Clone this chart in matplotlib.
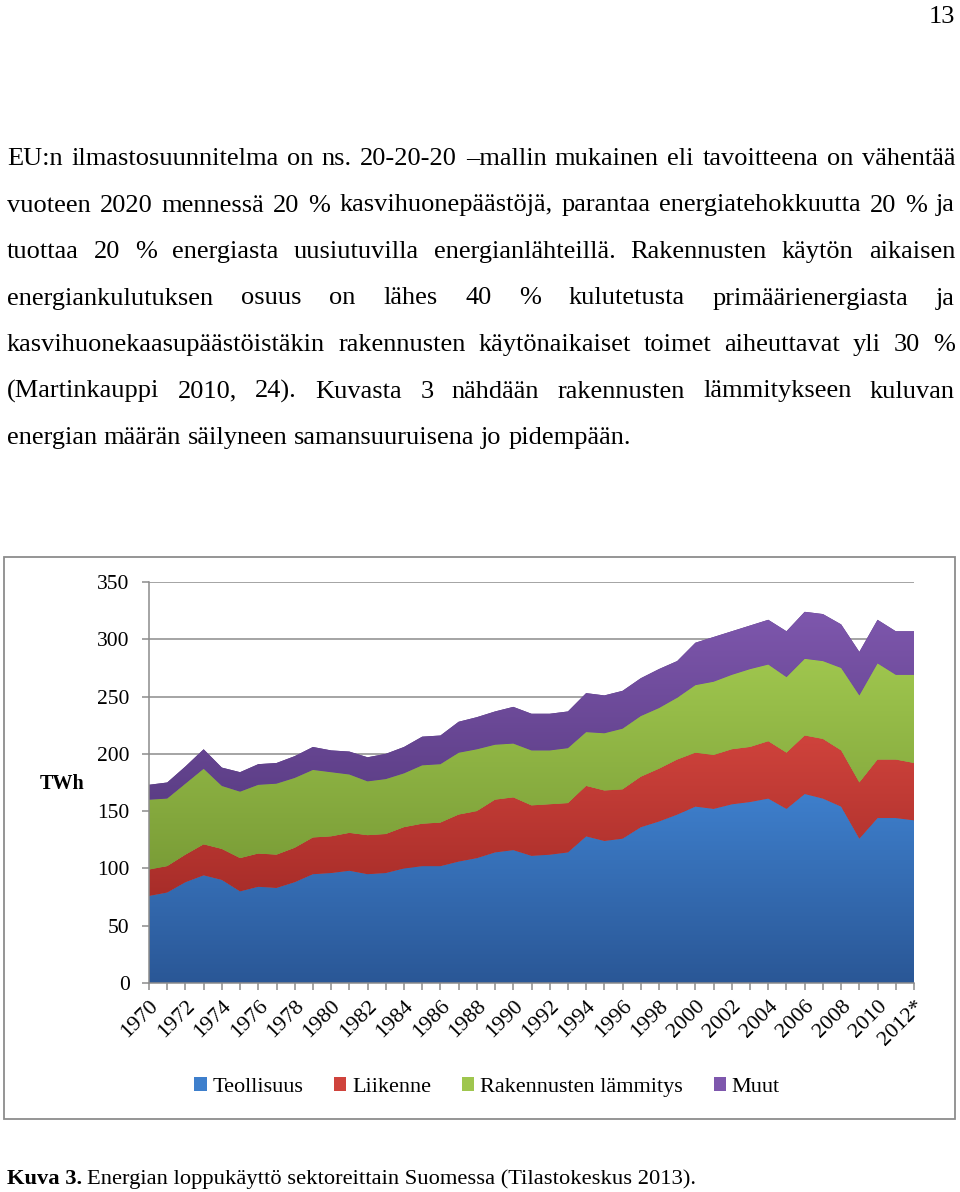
import numpy as np
import matplotlib.pyplot as plt
from matplotlib.colors import LinearSegmentedColormap
from matplotlib.patches import Patch, Rectangle

plt.rcParams['font.family'] = ['Liberation Serif', 'DejaVu Serif']

# data (TWh)
vuodet = [str(v) for v in range(1970, 2012)] + ["2012*"]
teollisuus = [76, 79, 88, 94, 90, 80, 84, 83, 88, 95, 96, 98, 95, 96, 100, 102, 102, 106, 109, 114,
              116, 111, 112, 114, 128, 124, 126, 136, 141, 147, 154, 152, 156, 158, 161, 152, 165,
              161, 154, 126, 144, 144, 142]
liikenne = [23, 23, 24, 27, 27, 29, 29, 29, 30, 32, 32, 33, 34, 34, 36, 37, 38, 41, 41, 46,
            46, 44, 44, 43, 44, 44, 43, 44, 46, 48, 47, 47, 48, 48, 50, 49, 51,
            52, 49, 49, 51, 51, 50]
lammitys = [61, 59, 62, 66, 55, 58, 60, 62, 61, 59, 56, 51, 47, 48, 47, 51, 51, 54, 54, 48,
            47, 48, 47, 48, 47, 50, 53, 53, 53, 54, 59, 64, 65, 68, 67, 66, 67,
            68, 72, 76, 84, 74, 77]
muut = [13, 14, 15, 17, 16, 17, 18, 18, 19, 20, 19, 20, 21, 22, 23, 25, 25, 27, 28, 29,
        32, 32, 32, 32, 34, 33, 33, 33, 34, 32, 37, 39, 38, 38, 39, 40, 41,
        41, 38, 38, 38, 38, 38]
sarjat = ["Teollisuus", "Liikenne", "Rakennusten lämmitys", "Muut"]

# (top colour, bottom colour) for each series
varit = [("#3e7fcc", "#2a5796"), ("#cf433c", "#a82d29"),
         ("#9fc64e", "#7a9d37"), ("#7e57ad", "#5c3e86")]

W, H = 960, 1192
fig = plt.figure(figsize=(W / 100, H / 100), dpi=100)
renderer = fig.canvas.get_renderer()

# ---- page text ----
body_fs = 19
rivit = [
    "EU:n ilmastosuunnitelma on ns. 20-20-20 –mallin mukainen eli tavoitteena on vähentää",
    "vuoteen 2020 mennessä 20 % kasvihuonepäästöjä, parantaa energiatehokkuutta 20 % ja",
    "tuottaa 20 % energiasta uusiutuvilla energianlähteillä. Rakennusten käytön aikaisen",
    "energiankulutuksen osuus on lähes 40 % kulutetusta primäärienergiasta ja",
    "kasvihuonekaasupäästöistäkin rakennusten käytönaikaiset toimet aiheuttavat yli 30 %",
    "(Martinkauppi 2010, 24).  Kuvasta 3 nähdään rakennusten lämmitykseen kuluvan",
    "energian määrän säilyneen samansuuruisena jo pidempään.",
]


def put_line(text, base_y, x0, x1, justify, fs):
    words = text.split()
    ts = [fig.text(0, 1 - base_y / H, w, fontsize=fs, va='baseline') for w in words]
    widths = [t.get_window_extent(renderer).width for t in ts]
    space = fs * 100 / 72 * 0.25
    if justify and len(words) > 1:
        gap = max((x1 - x0 - sum(widths)) / (len(words) - 1), 3)
    else:
        gap = space
    x = x0
    for t, w in zip(ts, widths):
        t.set_x(x / W)
        x += w + gap


for i, r in enumerate(rivit):
    put_line(r, 165 + 46.5 * i, 7, 955, i < len(rivit) - 1, body_fs)

fig.text(955 / W, 1 - 23 / H, "13", fontsize=body_fs, ha='right', va='baseline')

# caption
cap_fs = 16.2
k = fig.text(7 / W, 1 - 1184 / H, "Kuva 3.", fontsize=cap_fs, fontweight='bold', va='baseline')
kw = k.get_window_extent(renderer).width
fig.text((7 + kw + 5) / W, 1 - 1184 / H,
         "Energian loppukäyttö sektoreittain Suomessa (Tilastokeskus 2013).",
         fontsize=cap_fs, va='baseline')

# chart frame
fig.patches.append(Rectangle((4 / W, 1 - 1119 / H), 951 / W, 562 / H, transform=fig.transFigure,
                             fill=False, edgecolor='#8c8c8c', lw=1.3))

# ---- chart ----
ax = fig.add_axes([149 / W, 1 - 983 / H, 765 / W, 401 / H])
x = np.arange(len(vuodet))
pohja = np.zeros(len(x))
for arvot, (c_top, c_bot) in zip([teollisuus, liikenne, lammitys, muut], varit):
    ylä = pohja + np.array(arvot)
    poly = ax.fill_between(x, pohja, ylä, facecolor=c_bot, lw=0, zorder=1)
    cmap = LinearSegmentedColormap.from_list("g", [c_bot, c_top])
    grad = np.linspace(0, 1, 256).reshape(-1, 1)
    im = ax.imshow(grad, extent=[0, x[-1], pohja.min(), ylä.max()], origin='lower',
                   aspect='auto', cmap=cmap, zorder=1.5, interpolation='bilinear')
    im.set_clip_path(poly.get_paths()[0], ax.transData)
    pohja = ylä

ax.set_xlim(0, x[-1])
ax.set_ylim(0, 350)
ax.set_yticks(range(0, 351, 50))
ax.yaxis.grid(True, color='#8c8c8c', lw=1.1)
ax.set_axisbelow(True)
for s in ['top', 'right']:
    ax.spines[s].set_visible(False)
for s in ['left', 'bottom']:
    ax.spines[s].set_color('#8c8c8c')
    ax.spines[s].set_linewidth(1.1)
    ax.spines[s].set_zorder(3)

ax.set_xticks(x)
ax.set_xticklabels([v if i % 2 == 0 else "" for i, v in enumerate(vuodet)],
                   rotation=45, ha='right', rotation_mode='anchor', fontsize=16)
ax.tick_params(axis='both', colors='#8c8c8c', length=5, width=1.1, labelcolor='black')
ax.tick_params(axis='y', labelsize=15.5, pad=9)
ax.tick_params(axis='x', pad=5)

fig.text(62 / W, 1 - 784 / H, "TWh", fontsize=14.5, fontweight='bold', ha='center', va='center')

handles = [Patch(facecolor=c[0], edgecolor='none') for c in varit]
fig.legend(handles, sarjat, loc='center', bbox_to_anchor=(487 / W, 1 - 1087 / H), ncol=4,
           frameon=False, fontsize=16, handlelength=0.55, handleheight=0.55,
           handletextpad=0.25, columnspacing=1.4)

fig.savefig("out.png", dpi=100)
